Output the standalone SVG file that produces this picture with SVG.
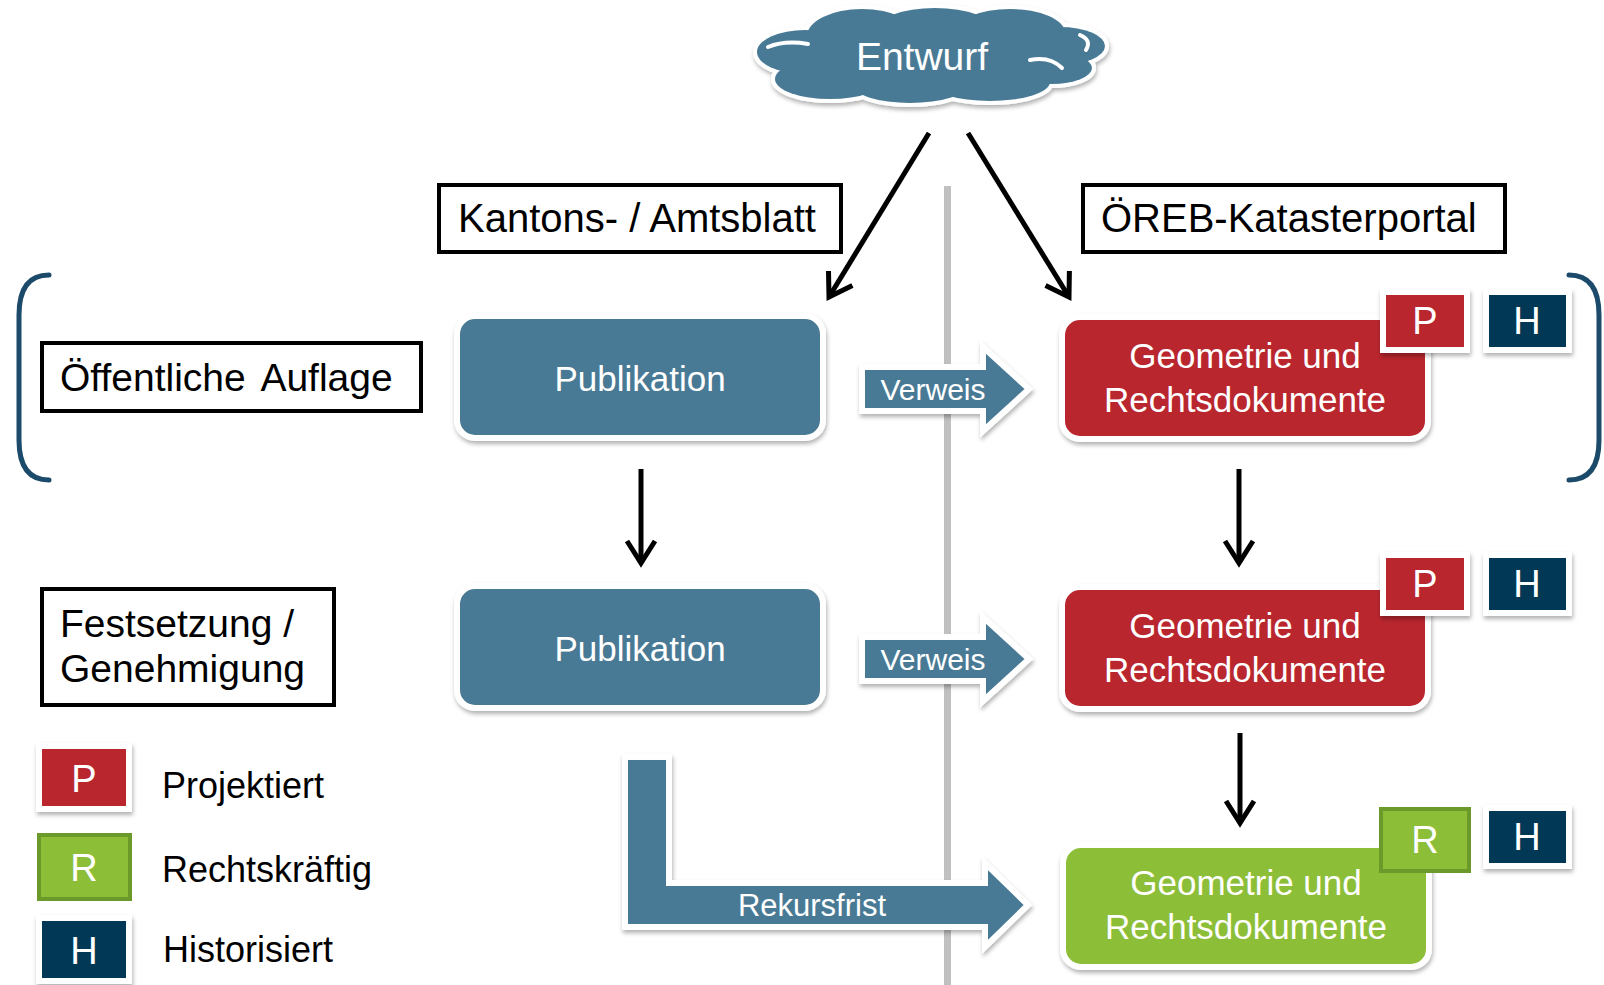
<svg xmlns="http://www.w3.org/2000/svg" width="1604" height="985" viewBox="0 0 1604 985">
<style>
text{font-family:"Liberation Sans",Arial,sans-serif}
.lbl{fill:#000}
.wt{fill:#fff;text-anchor:middle}
.frame{fill:#fff;stroke:#000;stroke-width:4}
.blue{fill:#497a95}
.red{fill:#b9272f}
.green{fill:#8dbe37}
.dark{fill:#003855}
.wb{stroke:#fff;stroke-width:6}
.conn{stroke:#000;stroke-width:5;fill:none;marker-end:url(#ah)}
.brk{fill:none;stroke:#1c4a6a;stroke-width:5;stroke-linecap:round}
</style>
<defs>
<filter id="sh" x="-10%" y="-10%" width="120%" height="130%">
<feDropShadow dx="1" dy="3" stdDeviation="2" flood-color="#000" flood-opacity="0.3"/>
</filter>
<marker id="ah" markerUnits="userSpaceOnUse" markerWidth="40" markerHeight="40" viewBox="-25 -20 40 40" refX="0" refY="0" orient="auto">
<path d="M-22,-14 L0,0 L-22,14" fill="none" stroke="#000" stroke-width="5"/>
</marker>
</defs>
<rect width="1604" height="985" fill="#fff"/>

<!-- separator -->
<rect x="944" y="186" width="7" height="799" fill="#c0c0c0"/>

<!-- brackets -->
<path class="brk" d="M49,275 Q19,275 19,315 L19,440 Q19,480 49,480"/>
<path class="brk" d="M1569,275 Q1599,275 1599,315 L1599,440 Q1599,480 1569,480"/>

<!-- cloud -->
<g id="entwurf">
<g filter="url(#sh)" fill="#497a95" stroke="#fff" stroke-width="8">
<ellipse cx="805" cy="52" rx="48" ry="22"/>
<ellipse cx="830" cy="79" rx="55" ry="20"/>
<ellipse cx="862" cy="36" rx="55" ry="27"/>
<ellipse cx="935" cy="31" rx="60" ry="23"/>
<ellipse cx="1010" cy="33" rx="55" ry="24"/>
<ellipse cx="1060" cy="46" rx="45" ry="19"/>
<ellipse cx="1052" cy="68" rx="40" ry="16"/>
<ellipse cx="990" cy="82" rx="60" ry="19"/>
<ellipse cx="910" cy="84" rx="58" ry="19"/>
</g>
<g fill="#497a95">
<ellipse cx="805" cy="52" rx="48" ry="22"/>
<ellipse cx="830" cy="79" rx="55" ry="20"/>
<ellipse cx="862" cy="36" rx="55" ry="27"/>
<ellipse cx="935" cy="31" rx="60" ry="23"/>
<ellipse cx="1010" cy="33" rx="55" ry="24"/>
<ellipse cx="1060" cy="46" rx="45" ry="19"/>
<ellipse cx="1052" cy="68" rx="40" ry="16"/>
<ellipse cx="990" cy="82" rx="60" ry="19"/>
<ellipse cx="910" cy="84" rx="58" ry="19"/>
<ellipse cx="930" cy="58" rx="140" ry="34"/>
</g>
<g fill="none" stroke="#fff" stroke-width="4" stroke-linecap="round">
<path d="M768,47 Q785,40 808,44"/>
<path d="M1030,60 Q1050,56 1062,68"/>
<path d="M1080,35 Q1092,40 1086,50"/>
</g>
<text class="wt" x="922" y="70" font-size="39">Entwurf</text>
</g>

<!-- header labels -->
<g id="kantonsblatt">
<rect class="frame" x="439" y="185" width="402" height="67"/>
<text class="lbl" x="458" y="232" font-size="40">Kantons- / Amtsblatt</text>
</g>
<g id="oereb-portal">
<rect class="frame" x="1083" y="185" width="422" height="67"/>
<text class="lbl" x="1101" y="232" font-size="40">ÖREB-Katasterportal</text>
</g>
<g id="auflage">
<rect class="frame" x="42" y="343" width="379" height="68"/>
<text class="lbl" x="60" y="391" font-size="39" word-spacing="6">Öffentliche Auflage</text>
</g>
<g id="festsetzung">
<rect class="frame" x="42" y="589" width="292" height="116"/>
<text class="lbl" x="60" y="637" font-size="39">Festsetzung /</text>
<text class="lbl" x="60" y="682" font-size="39">Genehmigung</text>
</g>

<!-- left column -->
<g id="publikation1">
<rect class="blue wb" x="457" y="316" width="366" height="122" rx="18" filter="url(#sh)"/>
<text class="wt" x="640" y="391" font-size="35">Publikation</text>
</g>
<g id="publikation2">
<rect class="blue wb" x="457" y="586" width="366" height="122" rx="18" filter="url(#sh)"/>
<text class="wt" x="640" y="661" font-size="35">Publikation</text>
</g>

<!-- right column -->
<g id="geo1">
<rect class="red wb" x="1062" y="317" width="366" height="122" rx="18" filter="url(#sh)"/>
<text class="wt" x="1245" y="368" font-size="35">Geometrie und</text>
<text class="wt" x="1245" y="412" font-size="35">Rechtsdokumente</text>
</g>
<g id="badges1">
<rect class="red wb" x="1383" y="292" width="84" height="58" filter="url(#sh)"/>
<text class="wt" x="1425" y="334" font-size="38">P</text>
<rect class="dark wb" x="1486" y="292" width="83" height="58" filter="url(#sh)"/>
<text class="wt" x="1527" y="334" font-size="38">H</text>
</g>
<g id="geo2">
<rect class="red wb" x="1062" y="587" width="366" height="122" rx="18" filter="url(#sh)"/>
<text class="wt" x="1245" y="638" font-size="35">Geometrie und</text>
<text class="wt" x="1245" y="682" font-size="35">Rechtsdokumente</text>
</g>
<g id="badges2">
<rect class="red wb" x="1383" y="555" width="84" height="58" filter="url(#sh)"/>
<text class="wt" x="1425" y="597" font-size="38">P</text>
<rect class="dark wb" x="1486" y="555" width="83" height="58" filter="url(#sh)"/>
<text class="wt" x="1527" y="597" font-size="38">H</text>
</g>
<g id="geo3">
<rect class="green wb" x="1063" y="845" width="366" height="122" rx="18" filter="url(#sh)"/>
<text class="wt" x="1246" y="895" font-size="35">Geometrie und</text>
<text class="wt" x="1246" y="939" font-size="35">Rechtsdokumente</text>
</g>
<g id="badges3">
<rect class="green" x="1381" y="809" width="88" height="62" stroke="#6b9a2a" stroke-width="4"/>
<text class="wt" x="1425" y="853" font-size="38">R</text>
<rect class="dark wb" x="1486" y="808" width="83" height="58" filter="url(#sh)"/>
<text class="wt" x="1527" y="850" font-size="38">H</text>
</g>

<!-- legend -->
<g id="legend">
<rect class="red wb" x="39" y="746" width="90" height="63" filter="url(#sh)"/>
<text class="wt" x="84" y="792" font-size="38">P</text>
<text class="lbl" x="162" y="798" font-size="36">Projektiert</text>
<rect class="green" x="39" y="835" width="91" height="64" stroke="#6b9a2a" stroke-width="4"/>
<text class="wt" x="84" y="881" font-size="38">R</text>
<text class="lbl" x="162" y="882" font-size="36">Rechtskräftig</text>
<rect class="dark wb" x="39" y="918" width="90" height="63" filter="url(#sh)"/>
<text class="wt" x="84" y="964" font-size="38">H</text>
<text class="lbl" x="163" y="962" font-size="36">Historisiert</text>
</g>

<!-- connectors -->
<g id="connectors">
<line class="conn" x1="929" y1="133" x2="829" y2="297"/>
<line class="conn" x1="968" y1="133" x2="1069" y2="297"/>
<line class="conn" x1="641" y1="469" x2="641" y2="563"/>
<line class="conn" x1="1239" y1="469" x2="1239" y2="563"/>
<line class="conn" x1="1240" y1="733" x2="1240" y2="823"/>
<g id="verweis1">
<path class="blue wb" filter="url(#sh)" d="M862,367 L983,367 L983,347 L1029,389 L983,431 L983,411 L862,411 Z"/>
<text class="wt" x="933" y="400" font-size="30">Verweis</text>
</g>
<g id="verweis2">
<path class="blue wb" filter="url(#sh)" d="M862,637 L983,637 L983,617 L1029,659 L983,701 L983,681 L862,681 Z"/>
<text class="wt" x="933" y="670" font-size="30">Verweis</text>
</g>
<g id="rekursfrist">
<path class="blue wb" filter="url(#sh)" d="M625,757 L669,757 L669,883 L985,883 L985,863 L1028,905 L985,947 L985,927 L625,927 Z"/>
<text class="wt" x="812" y="916" font-size="31">Rekursfrist</text>
</g>
</g>
</svg>
